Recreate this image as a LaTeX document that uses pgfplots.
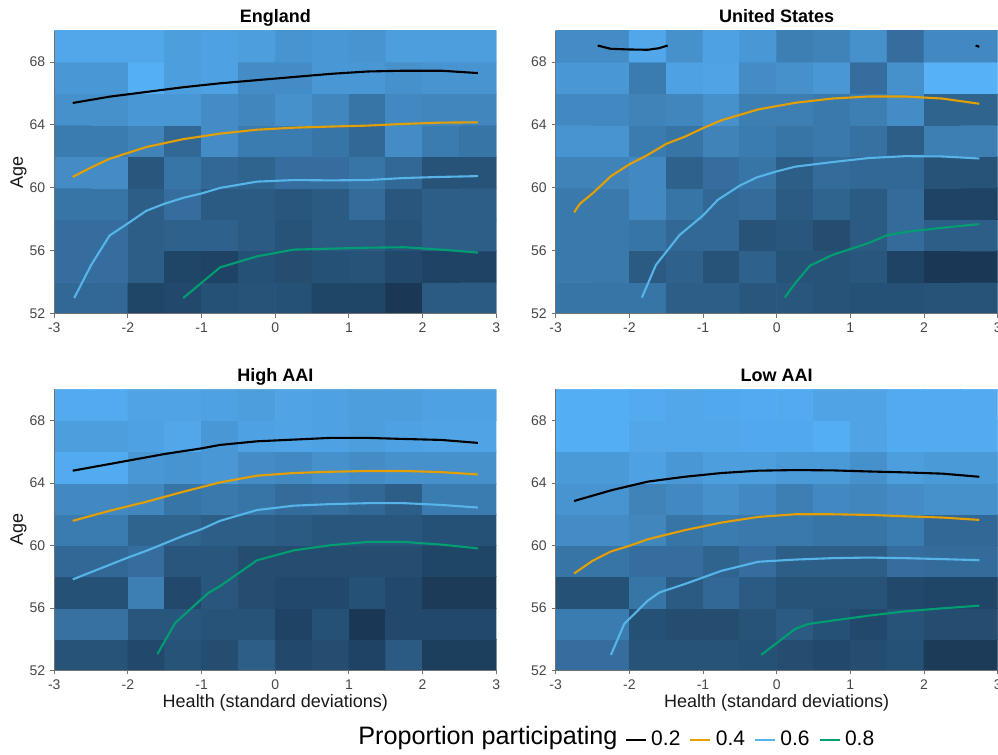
\documentclass[border=0pt]{standalone}
\usepackage{pgfplots}
\usepackage{pgfplotstable}
\pgfplotsset{compat=1.18}
\usepackage{fontspec}
\setmainfont{Liberation Sans}
\definecolor{cA}{RGB}{0,0,0}
\definecolor{cB}{RGB}{230,159,0}
\definecolor{cC}{RGB}{86,180,233}
\definecolor{cD}{RGB}{0,158,115}

\pgfplotstableread[row sep=\\]{
x y c\\
-2.75 53 0.45\\ -2.25 53 0.45\\ -1.75 53 0.2\\ -1.25 53 0.22\\ -0.75 53 0.28\\ -0.25 53 0.3\\ 0.25 53 0.28\\ 0.75 53 0.2\\ 1.25 53 0.2\\ 1.75 53 0.1\\ 2.25 53 0.35\\ 2.75 53 0.35\\
-2.75 55 0.5\\ -2.25 55 0.5\\ -1.75 55 0.38\\ -1.25 55 0.2\\ -0.75 55 0.18\\ -0.25 55 0.28\\ 0.25 55 0.25\\ 0.75 55 0.28\\ 1.25 55 0.3\\ 1.75 55 0.22\\ 2.25 55 0.18\\ 2.75 55 0.18\\
-2.75 57 0.5\\ -2.25 57 0.5\\ -1.75 57 0.38\\ -1.25 57 0.4\\ -0.75 57 0.4\\ -0.25 57 0.35\\ 0.25 57 0.3\\ 0.75 57 0.35\\ 1.25 57 0.35\\ 1.75 57 0.3\\ 2.25 57 0.38\\ 2.75 57 0.38\\
-2.75 59 0.55\\ -2.25 59 0.55\\ -1.75 59 0.38\\ -1.25 59 0.5\\ -0.75 59 0.35\\ -0.25 59 0.35\\ 0.25 59 0.32\\ 0.75 59 0.35\\ 1.25 59 0.48\\ 1.75 59 0.32\\ 2.25 59 0.38\\ 2.75 59 0.38\\
-2.75 61 0.72\\ -2.25 61 0.72\\ -1.75 61 0.32\\ -1.25 61 0.55\\ -0.75 61 0.45\\ -0.25 61 0.42\\ 0.25 61 0.5\\ 0.75 61 0.5\\ 1.25 61 0.55\\ 1.75 61 0.45\\ 2.25 61 0.3\\ 2.75 61 0.3\\
-2.75 63 0.6\\ -2.25 63 0.6\\ -1.75 63 0.65\\ -1.25 63 0.45\\ -0.75 63 0.72\\ -0.25 63 0.6\\ 0.25 63 0.6\\ 0.75 63 0.55\\ 1.25 63 0.45\\ 1.75 63 0.72\\ 2.25 63 0.6\\ 2.75 63 0.55\\
-2.75 65 0.75\\ -2.25 65 0.75\\ -1.75 65 0.8\\ -1.25 65 0.8\\ -0.75 65 0.72\\ -0.25 65 0.68\\ 0.25 65 0.75\\ 0.75 65 0.68\\ 1.25 65 0.55\\ 1.75 65 0.7\\ 2.25 65 0.68\\ 2.75 65 0.68\\
-2.75 67 0.8\\ -2.25 67 0.8\\ -1.75 67 0.98\\ -1.25 67 0.85\\ -0.75 67 0.88\\ -0.25 67 0.72\\ 0.25 67 0.72\\ 0.75 67 0.8\\ 1.25 67 0.8\\ 1.75 67 0.75\\ 2.25 67 0.78\\ 2.75 67 0.78\\
-2.75 69 0.92\\ -2.25 69 0.92\\ -1.75 69 0.92\\ -1.25 69 0.85\\ -0.75 69 0.88\\ -0.25 69 0.85\\ 0.25 69 0.78\\ 0.75 69 0.8\\ 1.25 69 0.78\\ 1.75 69 0.85\\ 2.25 69 0.85\\ 2.75 69 0.85\\
}\tabE

\pgfplotstableread[row sep=\\]{
x y c\\
-2.75 53 0.55\\ -2.25 53 0.55\\ -1.75 53 0.55\\ -1.25 53 0.38\\ -0.75 53 0.38\\ -0.25 53 0.32\\ 0.25 53 0.32\\ 0.75 53 0.3\\ 1.25 53 0.28\\ 1.75 53 0.28\\ 2.25 53 0.3\\ 2.75 53 0.3\\
-2.75 55 0.58\\ -2.25 55 0.58\\ -1.75 55 0.35\\ -1.25 55 0.4\\ -0.75 55 0.3\\ -0.25 55 0.4\\ 0.25 55 0.3\\ 0.75 55 0.3\\ 1.25 55 0.32\\ 1.75 55 0.18\\ 2.25 55 0.1\\ 2.75 55 0.1\\
-2.75 57 0.58\\ -2.25 57 0.58\\ -1.75 57 0.55\\ -1.25 57 0.45\\ -0.75 57 0.45\\ -0.25 57 0.3\\ 0.25 57 0.32\\ 0.75 57 0.25\\ 1.25 57 0.35\\ 1.75 57 0.48\\ 2.25 57 0.38\\ 2.75 57 0.38\\
-2.75 59 0.58\\ -2.25 59 0.58\\ -1.75 59 0.7\\ -1.25 59 0.55\\ -0.75 59 0.45\\ -0.25 59 0.48\\ 0.25 59 0.35\\ 0.75 59 0.42\\ 1.25 59 0.35\\ 1.75 59 0.48\\ 2.25 59 0.18\\ 2.75 59 0.18\\
-2.75 61 0.65\\ -2.25 61 0.65\\ -1.75 61 0.7\\ -1.25 61 0.4\\ -0.75 61 0.5\\ -0.25 61 0.55\\ 0.25 61 0.38\\ 0.75 61 0.48\\ 1.25 61 0.45\\ 1.75 61 0.45\\ 2.25 61 0.3\\ 2.75 61 0.3\\
-2.75 63 0.78\\ -2.25 63 0.78\\ -1.75 63 0.6\\ -1.25 63 0.55\\ -0.75 63 0.65\\ -0.25 63 0.6\\ 0.25 63 0.55\\ 0.75 63 0.58\\ 1.25 63 0.52\\ 1.75 63 0.38\\ 2.25 63 0.62\\ 2.75 63 0.62\\
-2.75 65 0.7\\ -2.25 65 0.7\\ -1.75 65 0.65\\ -1.25 65 0.68\\ -0.75 65 0.75\\ -0.25 65 0.62\\ 0.25 65 0.62\\ 0.75 65 0.58\\ 1.25 65 0.62\\ 1.75 65 0.72\\ 2.25 65 0.42\\ 2.75 65 0.42\\
-2.75 67 0.8\\ -2.25 67 0.8\\ -1.75 67 0.6\\ -1.25 67 0.88\\ -0.75 67 0.9\\ -0.25 67 0.72\\ 0.25 67 0.75\\ 0.75 67 0.8\\ 1.25 67 0.5\\ 1.75 67 0.75\\ 2.25 67 1.0\\ 2.75 67 1.0\\
-2.75 69 0.72\\ -2.25 69 0.72\\ -1.75 69 0.92\\ -1.25 69 0.75\\ -0.75 69 0.88\\ -0.25 69 0.8\\ 0.25 69 0.62\\ 0.75 69 0.65\\ 1.25 69 0.75\\ 1.75 69 0.5\\ 2.25 69 0.7\\ 2.75 69 0.7\\
}\tabU

\pgfplotstableread[row sep=\\]{
x y c\\
-2.75 53 0.3\\ -2.25 53 0.3\\ -1.75 53 0.22\\ -1.25 53 0.3\\ -0.75 53 0.25\\ -0.25 53 0.38\\ 0.25 53 0.22\\ 0.75 53 0.25\\ 1.25 53 0.18\\ 1.75 53 0.35\\ 2.25 53 0.15\\ 2.75 53 0.15\\
-2.75 55 0.52\\ -2.25 55 0.52\\ -1.75 55 0.32\\ -1.25 55 0.32\\ -0.75 55 0.3\\ -0.25 55 0.3\\ 0.25 55 0.18\\ 0.75 55 0.28\\ 1.25 55 0.1\\ 1.75 55 0.22\\ 2.25 55 0.22\\ 2.75 55 0.22\\
-2.75 57 0.28\\ -2.25 57 0.28\\ -1.75 57 0.62\\ -1.25 57 0.22\\ -0.75 57 0.32\\ -0.25 57 0.25\\ 0.25 57 0.22\\ 0.75 57 0.22\\ 1.25 57 0.28\\ 1.75 57 0.22\\ 2.25 57 0.12\\ 2.75 57 0.12\\
-2.75 59 0.45\\ -2.25 59 0.45\\ -1.75 59 0.5\\ -1.25 59 0.32\\ -0.75 59 0.32\\ -0.25 59 0.25\\ 0.25 59 0.25\\ 0.75 59 0.25\\ 1.25 59 0.25\\ 1.75 59 0.25\\ 2.25 59 0.2\\ 2.75 59 0.2\\
-2.75 61 0.6\\ -2.25 61 0.6\\ -1.75 61 0.42\\ -1.25 61 0.42\\ -0.75 61 0.38\\ -0.25 61 0.38\\ 0.25 61 0.35\\ 0.75 61 0.32\\ 1.25 61 0.32\\ 1.75 61 0.32\\ 2.25 61 0.28\\ 2.75 61 0.28\\
-2.75 63 0.7\\ -2.25 63 0.7\\ -1.75 63 0.68\\ -1.25 63 0.55\\ -0.75 63 0.58\\ -0.25 63 0.55\\ 0.25 63 0.48\\ 0.75 63 0.5\\ 1.25 63 0.45\\ 1.75 63 0.38\\ 2.25 63 0.6\\ 2.75 63 0.6\\
-2.75 65 0.95\\ -2.25 65 0.95\\ -1.75 65 0.8\\ -1.25 65 0.78\\ -0.75 65 0.8\\ -0.25 65 0.72\\ 0.25 65 0.7\\ 0.75 65 0.75\\ 1.25 65 0.72\\ 1.75 65 0.75\\ 2.25 65 0.75\\ 2.75 65 0.75\\
-2.75 67 0.85\\ -2.25 67 0.85\\ -1.75 67 0.88\\ -1.25 67 0.92\\ -0.75 67 0.8\\ -0.25 67 0.88\\ 0.25 67 0.9\\ 0.75 67 0.88\\ 1.25 67 0.85\\ 1.75 67 0.88\\ 2.25 67 0.9\\ 2.75 67 0.9\\
-2.75 69 0.95\\ -2.25 69 0.95\\ -1.75 69 0.9\\ -1.25 69 0.9\\ -0.75 69 0.88\\ -0.25 69 0.85\\ 0.25 69 0.9\\ 0.75 69 0.88\\ 1.25 69 0.85\\ 1.75 69 0.85\\ 2.25 69 0.88\\ 2.75 69 0.88\\
}\tabH

\pgfplotstableread[row sep=\\]{
x y c\\
-2.75 53 0.5\\ -2.25 53 0.5\\ -1.75 53 0.3\\ -1.25 53 0.3\\ -0.75 53 0.3\\ -0.25 53 0.28\\ 0.25 53 0.25\\ 0.75 53 0.22\\ 1.25 53 0.25\\ 1.75 53 0.28\\ 2.25 53 0.12\\ 2.75 53 0.12\\
-2.75 55 0.6\\ -2.25 55 0.6\\ -1.75 55 0.28\\ -1.25 55 0.25\\ -0.75 55 0.25\\ -0.25 55 0.3\\ 0.25 55 0.35\\ 0.75 55 0.28\\ 1.25 55 0.22\\ 1.75 55 0.3\\ 2.25 55 0.25\\ 2.75 55 0.25\\
-2.75 57 0.28\\ -2.25 57 0.28\\ -1.75 57 0.55\\ -1.25 57 0.35\\ -0.75 57 0.45\\ -0.25 57 0.35\\ 0.25 57 0.3\\ 0.75 57 0.3\\ 1.25 57 0.3\\ 1.75 57 0.22\\ 2.25 57 0.2\\ 2.75 57 0.2\\
-2.75 59 0.55\\ -2.25 59 0.55\\ -1.75 59 0.5\\ -1.25 59 0.5\\ -0.75 59 0.42\\ -0.25 59 0.5\\ 0.25 59 0.38\\ 0.75 59 0.38\\ 1.25 59 0.38\\ 1.75 59 0.5\\ 2.25 59 0.48\\ 2.75 59 0.48\\
-2.75 61 0.72\\ -2.25 61 0.72\\ -1.75 61 0.68\\ -1.25 61 0.55\\ -0.75 61 0.6\\ -0.25 61 0.58\\ 0.25 61 0.58\\ 0.75 61 0.55\\ 1.25 61 0.55\\ 1.75 61 0.6\\ 2.25 61 0.45\\ 2.75 61 0.45\\
-2.75 63 0.78\\ -2.25 63 0.78\\ -1.75 63 0.65\\ -1.25 63 0.7\\ -0.75 63 0.75\\ -0.25 63 0.7\\ 0.25 63 0.62\\ 0.75 63 0.7\\ 1.25 63 0.68\\ 1.75 63 0.72\\ 2.25 63 0.75\\ 2.75 63 0.75\\
-2.75 65 0.82\\ -2.25 65 0.82\\ -1.75 65 0.88\\ -1.25 65 0.8\\ -0.75 65 0.85\\ -0.25 65 0.85\\ 0.25 65 0.82\\ 0.75 65 0.82\\ 1.25 65 0.75\\ 1.75 65 0.85\\ 2.25 65 0.82\\ 2.75 65 0.82\\
-2.75 67 0.97\\ -2.25 67 0.97\\ -1.75 67 0.92\\ -1.25 67 0.92\\ -0.75 67 0.92\\ -0.25 67 0.93\\ 0.25 67 0.93\\ 0.75 67 0.97\\ 1.25 67 0.9\\ 1.75 67 0.95\\ 2.25 67 0.95\\ 2.75 67 0.95\\
-2.75 69 0.97\\ -2.25 69 0.97\\ -1.75 69 0.95\\ -1.25 69 0.92\\ -0.75 69 0.93\\ -0.25 69 0.95\\ 0.25 69 0.95\\ 0.75 69 0.9\\ 1.25 69 0.9\\ 1.75 69 0.95\\ 2.25 69 0.95\\ 2.75 69 0.95\\
}\tabL

\pgfplotsset{
  panel/.style={
    scale only axis, width=221pt,
    xmin=-3, xmax=3, ymin=52, ymax=70,
    axis lines*=left,
    axis line style={black!55, line width=0.5pt},
    xtick={-3,-2,-1,0,1,2,3},
    xticklabels={-3,-2,-1,0,1,2,3},
    ytick={52,56,60,64,68},
    yticklabels={52,56,60,64,68},
    tick align=outside,
    major tick length=2pt,
    tick style={black!55, line width=0.5pt},
    tick label style={font=\fontsize{7}{8}\selectfont, text=black!72},
    xticklabel style={yshift=1pt},
    yticklabel style={xshift=1pt},
    colormap={gg}{rgb255=(19,43,67) rgb255=(86,177,247)},
    point meta min=0, point meta max=1,
    every axis title shift=0pt,
    title style={font=\bfseries\fontsize{9}{10}\selectfont, at={(0.5,1)}, anchor=base, yshift=4pt},
    label style={font=\fontsize{9}{10}\selectfont, text=black!90},
    axis on top,
  },
  tiles/.style={matrix plot*, mesh/cols=12, point meta=explicit, forget plot},
  l2/.style={cA, line width=1.05pt},
  l4/.style={cB, line width=1.05pt},
  l6/.style={cC, line width=1.05pt},
  l8/.style={cD, line width=1.05pt},
}

\begin{document}
\begin{tikzpicture}
\path[use as bounding box] (0,0) rectangle (499pt,377.5pt);

% England
\begin{axis}[panel, height=141.6pt, at={(27.15pt,220.6pt)}, anchor=south west,
  title={England}, ylabel={Age},
  ylabel style={at={(axis description cs:-0.081,0.5)}, anchor=center}]
\addplot[tiles] table[x=x, y=y, meta=c] {\tabE};
\addplot[l2] coordinates {(-2.75,65.4) (-2.25,65.8) (-1.75,66.1) (-1.25,66.4) (-0.75,66.65) (-0.25,66.85) (0.25,67.05) (0.75,67.25) (1.25,67.4) (1.75,67.45) (2.25,67.45) (2.75,67.3)};
\addplot[l4] coordinates {(-2.75,60.7) (-2.5,61.3) (-2.25,61.85) (-1.75,62.6) (-1.25,63.1) (-0.75,63.45) (-0.25,63.7) (0.25,63.83) (0.75,63.9) (1.25,63.96) (1.75,64.07) (2.25,64.15) (2.75,64.17)};
\addplot[l6] coordinates {(-2.73,53.0) (-2.5,55.1) (-2.25,56.97) (-2.0,57.75) (-1.75,58.55) (-1.5,59.0) (-1.25,59.37) (-1.0,59.65) (-0.75,60.0) (-0.25,60.4) (0.25,60.5) (0.75,60.48) (1.25,60.5) (1.75,60.63) (2.25,60.7) (2.75,60.75)};
\addplot[l8] coordinates {(-1.25,53.0) (-0.75,54.95) (-0.5,55.3) (-0.25,55.65) (0.25,56.08) (0.75,56.14) (1.25,56.2) (1.75,56.23) (2.25,56.08) (2.75,55.89)};
\end{axis}

% United States
\begin{axis}[panel, height=141.6pt, at={(277.85pt,220.6pt)}, anchor=south west,
  title={United States}]
\addplot[tiles] table[x=x, y=y, meta=c] {\tabU};
\addplot[l2] coordinates {(-2.43,69.05) (-2.25,68.84) (-2.0,68.8) (-1.75,68.78) (-1.6,68.88) (-1.48,69.05)};
\addplot[l2] coordinates {(2.7,69.05) (2.75,68.97)};
\addplot[l4] coordinates {(-2.75,58.45) (-2.67,59.0) (-2.5,59.65) (-2.25,60.75) (-2.0,61.5) (-1.75,62.1) (-1.5,62.8) (-1.25,63.25) (-1.0,63.8) (-0.75,64.3) (-0.25,64.99) (0.25,65.41) (0.75,65.68) (1.25,65.81) (1.75,65.81) (2.25,65.68) (2.75,65.35)};
\addplot[l6] coordinates {(-1.83,53.03) (-1.64,55.1) (-1.32,57.0) (-1.0,58.25) (-0.8,59.24) (-0.5,60.15) (-0.27,60.67) (0.0,61.05) (0.25,61.35) (0.75,61.64) (1.25,61.9) (1.75,62.02) (2.25,62.0) (2.75,61.87)};
\addplot[l8] coordinates {(0.11,53.03) (0.25,53.94) (0.45,55.05) (0.75,55.73) (1.25,56.5) (1.5,57.0) (1.75,57.2) (2.25,57.47) (2.75,57.7)};
\end{axis}

% High AAI
\begin{axis}[panel, height=140.6pt, at={(27.15pt,42.25pt)}, anchor=south west,
  title={High AAI}, ylabel={Age}, xlabel={Health (standard deviations)},
  ylabel style={at={(axis description cs:-0.081,0.5)}, anchor=center},
  xlabel style={at={(axis description cs:0.5,-0.114)}, anchor=center},
  legend columns=4,
  legend style={draw=none, fill=none, inner sep=0pt, at={(1.289,-0.2472)}, anchor=west,
    font=\fontsize{10.5}{12}\selectfont, /tikz/every even column/.append style={column sep=2.3pt}},
  legend image code/.code={\draw[#1, line width=1.4pt] (0pt,0pt) -- (10pt,0pt);}]
\addplot[tiles] table[x=x, y=y, meta=c] {\tabH};
\addplot[l2] coordinates {(-2.75,64.79) (-2.0,65.43) (-1.5,65.86) (-1.0,66.22) (-0.75,66.44) (-0.25,66.67) (0.25,66.78) (0.75,66.89) (1.25,66.89) (1.75,66.82) (2.25,66.76) (2.75,66.57)};
\addlegendentry{0.2}
\addplot[l4] coordinates {(-2.75,61.58) (-2.25,62.22) (-1.75,62.8) (-1.25,63.44) (-0.75,64.04) (-0.25,64.47) (0.25,64.64) (0.75,64.72) (1.25,64.77) (1.75,64.77) (2.25,64.7) (2.75,64.55)};
\addlegendentry{0.4}
\addplot[l6] coordinates {(-2.75,57.83) (-2.0,59.23) (-1.75,59.66) (-1.25,60.62) (-1.0,61.05) (-0.75,61.58) (-0.25,62.27) (0.25,62.55) (0.75,62.65) (1.25,62.71) (1.75,62.71) (2.25,62.6) (2.75,62.43)};
\addlegendentry{0.6}
\addplot[l8] coordinates {(-1.6,53.05) (-1.36,55.04) (-0.91,56.96) (-0.75,57.4) (-0.25,59.05) (0.25,59.69) (0.75,60.02) (1.25,60.23) (1.75,60.23) (2.25,60.06) (2.75,59.82)};
\addlegendentry{0.8}
\end{axis}

% Low AAI
\begin{axis}[panel, height=140.6pt, at={(277.85pt,42.25pt)}, anchor=south west,
  title={Low AAI}, xlabel={Health (standard deviations)},
  xlabel style={at={(axis description cs:0.5,-0.114)}, anchor=center}]
\addplot[tiles] table[x=x, y=y, meta=c] {\tabL};
\addplot[l2] coordinates {(-2.75,62.85) (-2.25,63.53) (-1.75,64.09) (-1.25,64.4) (-0.75,64.64) (-0.25,64.79) (0.25,64.83) (0.75,64.81) (1.25,64.74) (1.75,64.68) (2.25,64.6) (2.75,64.4)};
\addplot[l4] coordinates {(-2.75,58.21) (-2.5,59.02) (-2.25,59.62) (-2.0,59.98) (-1.75,60.4) (-1.25,60.98) (-0.75,61.47) (-0.25,61.83) (0.25,62.0) (0.75,62.0) (1.25,61.96) (1.75,61.87) (2.25,61.79) (2.75,61.64)};
\addplot[l6] coordinates {(-2.25,53.0) (-2.07,54.98) (-1.75,56.47) (-1.59,57.0) (-1.25,57.53) (-0.75,58.38) (-0.25,58.96) (0.25,59.1) (0.75,59.19) (1.25,59.23) (1.75,59.19) (2.25,59.13) (2.75,59.06)};
\addplot[l8] coordinates {(-0.21,53.0) (0.25,54.66) (0.43,54.98) (0.75,55.19) (1.25,55.51) (1.75,55.79) (2.25,55.98) (2.75,56.15)};
\end{axis}

\node[anchor=base west, inner sep=0pt, font=\fontsize{12.6}{14}\selectfont] at (179pt,5pt) {Proportion participating};
\end{tikzpicture}
\end{document}
